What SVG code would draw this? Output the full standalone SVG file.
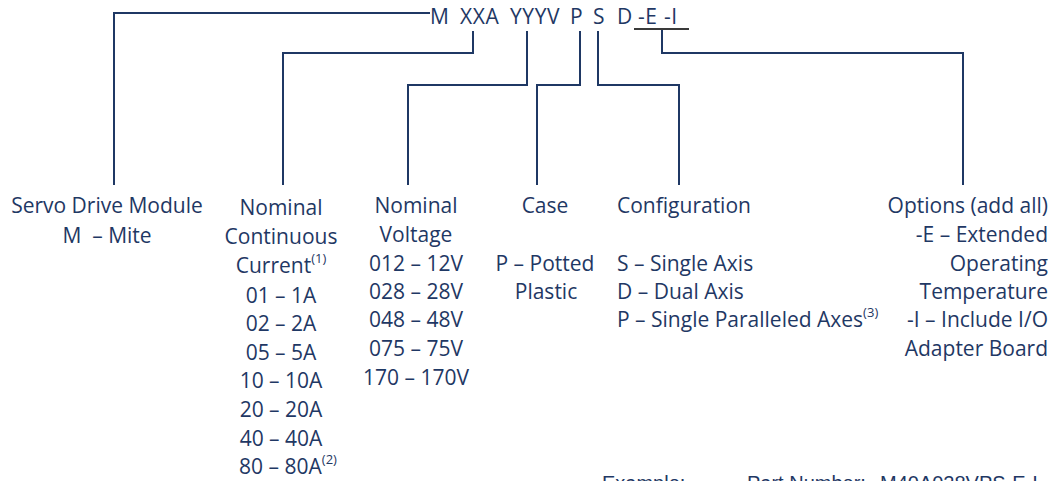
<svg xmlns="http://www.w3.org/2000/svg" width="1054" height="481" viewBox="0 0 1054 481">
<style>
text{font-family:"Open Sans","Noto Sans",sans-serif;font-size:21px;fill:#1F3864}
.m{text-anchor:middle}
.e{text-anchor:end}
.code{font-size:21px;letter-spacing:0.6px}
.sup{font-size:13px}
.ex{font-family:"Liberation Sans",Arial,sans-serif;font-size:20px}
.ln{fill:none;stroke:#1F3864;stroke-width:2}
.ul{fill:none;stroke:#3a3a3a;stroke-width:2}
</style>
<rect width="1054" height="481" fill="#fff"/>
<g id="code">
<text class="code" y="24"><tspan x="430">M</tspan><tspan x="460">XXA</tspan><tspan x="510">YYYV</tspan><tspan x="570">P</tspan><tspan x="593">S</tspan><tspan x="617">D</tspan><tspan x="638">-E</tspan><tspan x="664">-I</tspan></text>
</g>
<g id="connectors">
<path class="ln" d="M114,185V13H430"/>
<path class="ln" d="M473,31V53H283V185"/>
<path class="ln" d="M527,31V85H408V185"/>
<path class="ln" d="M580,31V85H537V185"/>
<path class="ln" d="M598,31V85H679V185"/>
<path class="ln" d="M662,29V53H963V185"/>
<path class="ul" d="M634,29H689"/>
</g>
<g id="servo">
<text class="m" x="107" y="213">Servo Drive Module</text>
<text class="m" x="107" y="243">M&#160; – Mite</text>
</g>
<g id="current">
<text class="m" x="281" y="215">Nominal</text>
<text class="m" x="281" y="244">Continuous</text>
<text class="m" x="281" y="272.5">Current<tspan class="sup" dy="-10">(1)</tspan></text>
<text class="m" x="281" y="302.5">01 – 1A</text>
<text class="m" x="281" y="331">02 – 2A</text>
<text class="m" x="281" y="359.5">05 – 5A</text>
<text class="m" x="281" y="388">10 – 10A</text>
<text class="m" x="281" y="417">20 – 20A</text>
<text class="m" x="281" y="445.5">40 – 40A</text>
<text class="m" x="288" y="474">80 – 80A<tspan class="sup" dy="-10">(2)</tspan></text>
</g>
<g id="voltage">
<text class="m" x="416" y="213">Nominal</text>
<text class="m" x="416" y="241.7">Voltage</text>
<text class="m" x="416" y="270.5">012 – 12V</text>
<text class="m" x="416" y="298.5">028 – 28V</text>
<text class="m" x="416" y="327">048 – 48V</text>
<text class="m" x="416" y="356">075 – 75V</text>
<text class="m" x="416" y="385">170 – 170V</text>
</g>
<g id="case">
<text class="m" x="545" y="213">Case</text>
<text class="m" x="545" y="270.5">P – Potted</text>
<text class="m" x="546" y="298.5">Plastic</text>
</g>
<g id="configuration">
<text x="617" y="213">Configuration</text>
<text x="617" y="270.5">S – Single Axis</text>
<text x="617" y="298.5">D – Dual Axis</text>
<text x="617" y="327">P – Single Paralleled Axes<tspan class="sup" dy="-10">(3)</tspan></text>
</g>
<g id="options">
<text class="e" x="1048" y="213">Options (add all)</text>
<text class="e" x="1048" y="241.7">-E – Extended</text>
<text class="e" x="1048" y="270.5">Operating</text>
<text class="e" x="1048" y="298.5">Temperature</text>
<text class="e" x="1048" y="327">-I – Include I/O</text>
<text class="e" x="1048" y="356">Adapter Board</text>
</g>
<g id="example">
<text class="ex" y="490"><tspan x="602">Example:</tspan><tspan x="747">Part Number:</tspan><tspan x="880">M40A028VPS-E-I</tspan></text>
</g>
</svg>
